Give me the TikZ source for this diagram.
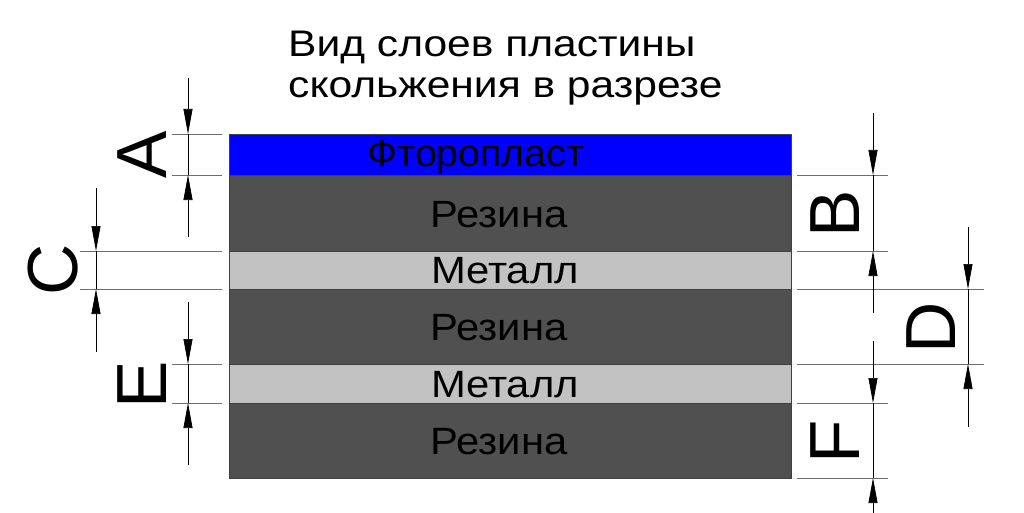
\documentclass[tikz,border=0pt]{standalone}
\usepackage{fontspec}
\setmainfont{Liberation Sans}
\usetikzlibrary{arrows.meta}
\definecolor{rubber}{RGB}{80,80,80}
\definecolor{metal}{RGB}{194,194,194}
\definecolor{extgray}{RGB}{110,110,110}

\begin{document}
\begin{tikzpicture}[x=1pt,y=-1pt,
		layer/.style={draw=black!75,line width=0.6pt},
		layertext/.style={anchor=base,inner sep=0pt,xscale=1.1,font=\fontsize{38}{38}\selectfont},
		titletext/.style={anchor=base west,inner sep=0pt,xscale=1.15,font=\fontsize{37}{37}\selectfont},
		extline/.style={draw=extgray,line width=0.7pt},
		dimline/.style={draw=black,line width=0.7pt,-{Triangle[length=25pt,width=9pt]}},
		dimlabel/.style={rotate=90,inner sep=0pt,font=\fontsize{71}{71}\selectfont}]
				\useasboundingbox (0,0) rectangle (1024,513);
				% title
				\node[titletext] (title1) at (288,57) {Вид слоев пластины};
				\node[titletext] (title2) at (288,98) {скольжения в разрезе};
				% layers
				\path[layer,fill=blue] (229,134) rectangle (791,175);
				\path[layer,fill=rubber] (229,175) rectangle (791,251);
				\path[layer,fill=metal] (229,251) rectangle (791,289);
				\path[layer,fill=rubber] (229,289) rectangle (791,364);
				\path[layer,fill=metal] (229,364) rectangle (791,403);
				\path[layer,fill=rubber] (229,403) rectangle (791,478);
				\node[layertext,xscale=0.94] (ftor) at (476,167) {Фторопласт};
				\node[layertext] (rez1) at (499,227) {Резина};
				\node[layertext] (met1) at (505,283) {Металл};
				\node[layertext] (rez2) at (499,340) {Резина};
				\node[layertext] (met2) at (505,397) {Металл};
				\node[layertext] (rez3) at (499,454) {Резина};
				% extension lines, left
				\draw[extline] (172,134) -- (222,134);
				\draw[extline] (172,175) -- (222,175);
				\draw[extline] (80,251) -- (222,251);
				\draw[extline] (80,289) -- (222,289);
				\draw[extline] (172,364) -- (222,364);
				\draw[extline] (172,403) -- (222,403);
				% extension lines, right
				\draw[extline] (797,175) -- (888,175);
				\draw[extline] (797,251) -- (888,251);
				\draw[extline] (797,289) -- (984,289);
				\draw[extline] (797,364) -- (984,364);
				\draw[extline] (797,403) -- (888,403);
				\draw[extline] (797,478) -- (888,478);
				% dimension A
				\coordinate (aTop) at (188,78);
				\coordinate (aHi) at (188,134);
				\coordinate (aLo) at (188,175);
				\coordinate (aBot) at (188,237);
				\draw[dimline] (aTop) -- (aHi);
				\draw[dimline] (aBot) -- (aLo);
				\draw[line width=0.7pt] (aHi) -- (aLo);
				\node[dimlabel] (labA) at (142.5,155) {A};
				% dimension C
				\coordinate (cTop) at (96,188);
				\coordinate (cHi) at (96,251);
				\coordinate (cLo) at (96,289);
				\coordinate (cBot) at (96,352);
				\draw[dimline] (cTop) -- (cHi);
				\draw[dimline] (cBot) -- (cLo);
				\draw[line width=0.7pt] (cHi) -- (cLo);
				\node[dimlabel] (labC) at (53,270) {C};
				% dimension E
				\coordinate (eTop) at (188,302);
				\coordinate (eHi) at (188,364);
				\coordinate (eLo) at (188,403);
				\coordinate (eBot) at (188,465);
				\draw[dimline] (eTop) -- (eHi);
				\draw[dimline] (eBot) -- (eLo);
				\draw[line width=0.7pt] (eHi) -- (eLo);
				\node[dimlabel] (labE) at (142,385) {E};
				% dimension B
				\coordinate (bTop) at (873,113);
				\coordinate (bHi) at (873,175);
				\coordinate (bLo) at (873,251);
				\coordinate (bBot) at (873,313);
				\draw[dimline] (bTop) -- (bHi);
				\draw[dimline] (bBot) -- (bLo);
				\draw[line width=0.7pt] (bHi) -- (bLo);
				\node[dimlabel] (labB) at (835.5,214) {B};
				% dimension D
				\coordinate (dTop) at (968,227);
				\coordinate (dHi) at (968,289);
				\coordinate (dLo) at (968,364);
				\coordinate (dBot) at (968,427);
				\draw[dimline] (dTop) -- (dHi);
				\draw[dimline] (dBot) -- (dLo);
				\draw[line width=0.7pt] (dHi) -- (dLo);
				\node[dimlabel] (labD) at (931.5,327.5) {D};
				% dimension F
				\coordinate (fTop) at (873,341);
				\coordinate (fHi) at (873,403);
				\coordinate (fLo) at (873,478);
				\coordinate (fBot) at (873,513);
				\draw[dimline] (fTop) -- (fHi);
				\draw[dimline] (fBot) -- (fLo);
				\draw[line width=0.7pt] (fHi) -- (fLo);
				\node[dimlabel] (labF) at (835,442) {F};
			\end{tikzpicture}
\end{document}
